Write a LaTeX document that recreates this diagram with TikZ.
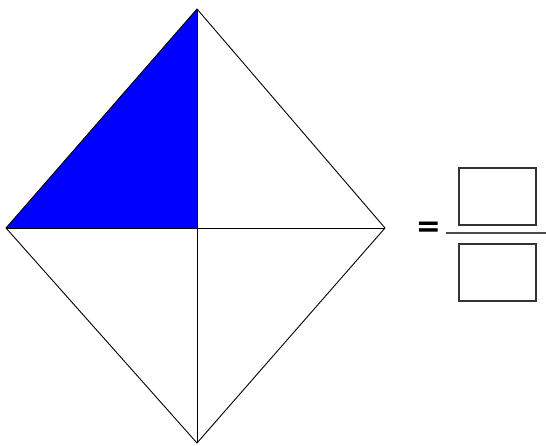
\documentclass[tikz,border=0pt]{standalone}
\usepackage{xcolor}
\usepackage{fontspec}
\usetikzlibrary{positioning}
\newfontfamily\signfont{DejaVu Sans}
\definecolor{fillblue}{HTML}{0000FF}
\definecolor{boxgray}{HTML}{333333}

\begin{document}
\begin{tikzpicture}[
    x=1pt, y=-1pt,
    edge/.style={draw=black, line width=0.9pt},
    blank/.style={draw=boxgray, line width=2pt, minimum width=77pt, minimum height=57pt, inner sep=0pt},
    bar/.style={draw=black!70, line width=2pt}
]
\useasboundingbox (0,0) rectangle (546,445);

% diamond
\coordinate (top) at (197,9);
\coordinate (left) at (6,228);
\coordinate (right) at (385,228);
\coordinate (bottom) at (197,443);
\coordinate (mid) at (197,228);

\fill[fillblue] (top) -- (left) -- (mid) -- cycle;
\draw[edge] (top) -- (right) -- (bottom) -- (left) -- cycle;
\draw[edge] (top) -- (bottom);
\draw[edge] (left) -- (right);

% fraction
\node[font=\signfont\bfseries\fontsize{30}{30}\selectfont, inner sep=0pt] (equals) at (428.5,229.5) {=};
\node[blank] (numer) at (497.5,196.5) {};
\node[blank] (denom) at (497.5,272.5) {};
\coordinate (barstart) at (446,233);
\coordinate (barend) at (546,233);
\draw[bar] (barstart) -- (barend);
\end{tikzpicture}
\end{document}
